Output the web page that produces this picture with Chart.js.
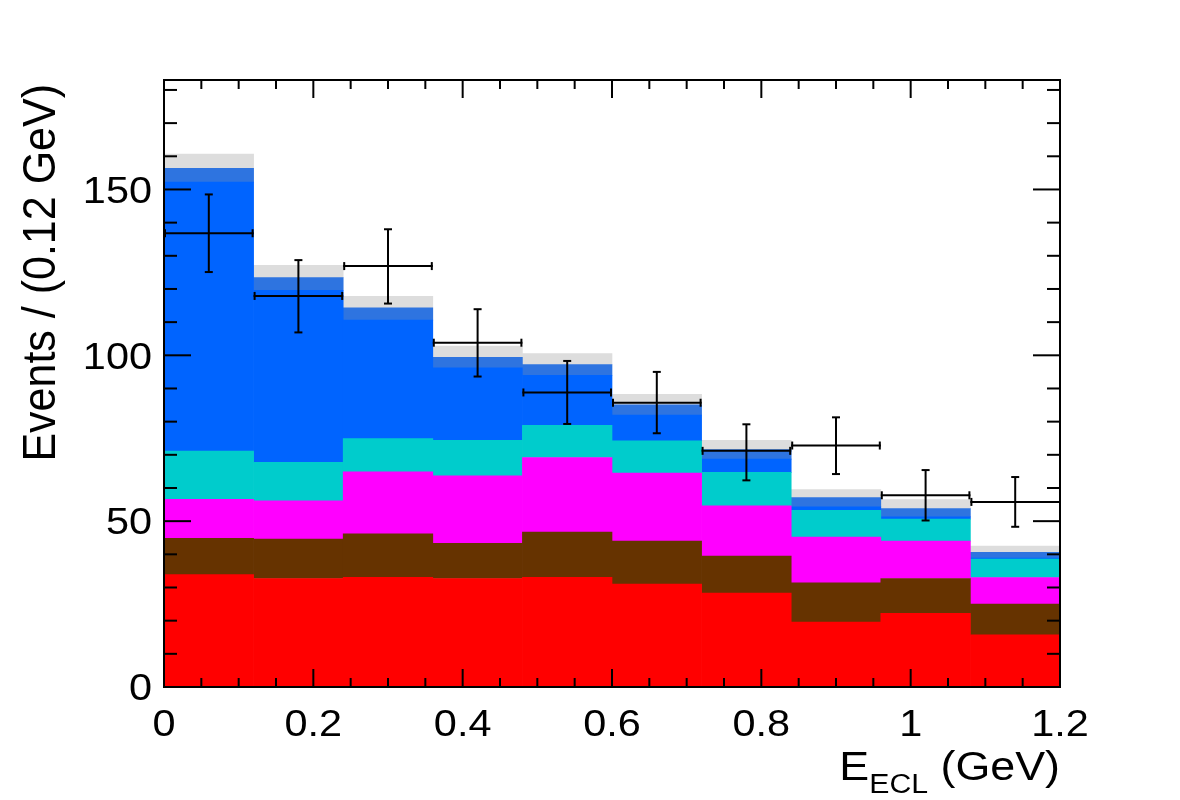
<!DOCTYPE html>
<html><head><meta charset="utf-8">
<script src="https://cdn.jsdelivr.net/npm/chart.js@4.4.0/dist/chart.umd.min.js"></script>
<style>html,body{margin:0;padding:0;background:#fff;}canvas{display:block;}</style>
</head><body>
<canvas id="c" width="1180" height="800"></canvas>
<script>
// ---- data ----
const binCenters = [0.06, 0.18, 0.30, 0.42, 0.54, 0.66, 0.78, 0.90, 1.02, 1.14];
const binHalfWidth = 0.06;
// stacked components (bottom to top), events per bin
const redComp     = [33.9, 32.7, 33.1, 32.7, 33.1, 31.0, 28.3, 19.6, 22.2, 15.7];
const brownComp   = [10.9, 11.9, 13.1, 10.6, 13.6, 13.0, 11.2, 11.8, 10.5, 9.3];
const magentaComp = [11.8, 11.5, 18.7, 20.4, 22.5, 20.5, 15.1, 13.8, 11.3, 8.0];
const cyanComp    = [14.5, 11.6, 10.0, 10.7, 9.7, 9.7, 10.1, 8.1, 6.6, 5.6];
const blueComp    = [81.1, 51.9, 35.7, 21.8, 15.1, 7.8, 4.0, 1.0, 0.7, 0.3];
const medBlueComp = [4.2, 3.8, 3.7, 3.2, 3.2, 3.1, 2.9, 2.8, 2.5, 1.7];
const grayComp    = [4.3, 3.7, 3.5, 3.4, 3.3, 3.1, 2.8, 2.4, 2.7, 1.9];
// data points with error bars
const dataY  = [136.8, 117.9, 126.9, 103.8, 88.8, 85.7, 71.2, 72.8, 57.8, 55.8];
const dataLo = [125.1, 106.9, 115.6, 93.6, 79.3, 76.5, 62.3, 64.2, 50.2, 48.3];
const dataHi = [148.5, 128.7, 138.0, 113.9, 98.3, 95.0, 79.2, 81.3, 65.4, 63.3];
// axes
const xTickValues = [0, 0.2, 0.4, 0.6, 0.8, 1.0, 1.2];
const xTickLabels = ['0', '0.2', '0.4', '0.6', '0.8', '1', '1.2'];
const yTickValues = [0, 50, 100, 150];
const yTickLabels = ['0', '50', '100', '150'];
const yTitle = 'Events / (0.12 GeV)';
const xTitleMain = 'E', xTitleSub = 'ECL', xTitleRest = ' (GeV)';

const components = [
  {label: 'red', data: redComp, color: '#ff0000'},
  {label: 'brown', data: brownComp, color: '#663300'},
  {label: 'magenta', data: magentaComp, color: '#ff00ff'},
  {label: 'cyan', data: cyanComp, color: '#00cccc'},
  {label: 'blue', data: blueComp, color: '#0064ff'},
  {label: 'medblue', data: medBlueComp, color: '#2e74e0'},
  {label: 'gray', data: grayComp, color: '#dddddd'}
];

const FONT = '"Liberation Sans", Arial, Helvetica, sans-serif';
const STRETCH = 1.12;

function line(ctx, x1, y1, x2, y2) {
  ctx.beginPath(); ctx.moveTo(x1, y1); ctx.lineTo(x2, y2); ctx.stroke();
}
function stretchedText(ctx, text, x, y, size, align) {
  ctx.save();
  ctx.font = size + 'px ' + FONT;
  const w = ctx.measureText(text).width * STRETCH;
  let x0 = x;
  if (align === 'right') x0 = x - w; else if (align === 'center') x0 = x - w / 2;
  ctx.translate(x0, y);
  ctx.scale(STRETCH, 1);
  ctx.textAlign = 'left';
  ctx.textBaseline = 'alphabetic';
  ctx.fillText(text, 0, 0);
  ctx.restore();
  return w;
}

const decor = {
  id: 'decor',
  afterDraw(chart) {
    const ctx = chart.ctx;
    const xs = chart.scales.x, ys = chart.scales.y;
    const a = chart.chartArea;
    ctx.save();
    ctx.strokeStyle = '#000';
    ctx.fillStyle = '#000';
    ctx.lineWidth = 2;
    ctx.lineCap = 'butt';
    // frame
    ctx.strokeRect(a.left, a.top, a.right - a.left, a.bottom - a.top);
    // x ticks (major 0.2, minor 0.05)
    for (let k = 0; k <= 24; k++) {
      const v = k * 0.05;
      const px = xs.getPixelForValue(v);
      const len = (k % 4 === 0) ? 18 : 9;
      line(ctx, px, a.bottom, px, a.bottom - len);
      line(ctx, px, a.top, px, a.top + len);
    }
    // y ticks (major 50, minor 10)
    for (let v = 0; v <= ys.max; v += 10) {
      const py = ys.getPixelForValue(v);
      const len = (v % 50 === 0) ? 27 : 13;
      line(ctx, a.left, py, a.left + len, py);
      line(ctx, a.right, py, a.right - len, py);
    }
    // error bars
    ctx.lineWidth = 2;
    for (let i = 0; i < binCenters.length; i++) {
      const px = xs.getPixelForValue(binCenters[i]);
      const pl = xs.getPixelForValue(binCenters[i] - binHalfWidth);
      const pr = Math.min(xs.getPixelForValue(binCenters[i] + binHalfWidth), a.right);
      const py = ys.getPixelForValue(dataY[i]);
      const plo = ys.getPixelForValue(dataLo[i]);
      const phi = ys.getPixelForValue(dataHi[i]);
      line(ctx, pl, py, pr, py);
      line(ctx, px, plo, px, phi);
      line(ctx, px - 4, plo, px + 4, plo);
      line(ctx, px - 4, phi, px + 4, phi);
      line(ctx, pl + 1, py - 4, pl + 1, py + 4);
      if (i < binCenters.length - 1) line(ctx, pr - 1, py - 4, pr - 1, py + 4);
    }
    // tick labels
    const tsz = 37;
    xTickValues.forEach((v, i) => {
      stretchedText(ctx, xTickLabels[i], xs.getPixelForValue(v), 736, tsz, 'center');
    });
    yTickValues.forEach((v, i) => {
      stretchedText(ctx, yTickLabels[i], 152, ys.getPixelForValue(v) + 0.358 * tsz, tsz, 'right');
    });
    // x title
    const mainSz = 40, subSz = 27;
    ctx.font = mainSz + 'px ' + FONT;
    const wE = ctx.measureText(xTitleMain).width * STRETCH;
    const wR = ctx.measureText(xTitleRest).width * STRETCH;
    ctx.font = subSz + 'px ' + FONT;
    const wS = ctx.measureText(xTitleSub).width * STRETCH;
    let x0 = a.right - (wE + wS + wR);
    stretchedText(ctx, xTitleMain, x0, 780, mainSz, 'left');
    stretchedText(ctx, xTitleSub, x0 + wE, 793, subSz, 'left');
    stretchedText(ctx, xTitleRest, x0 + wE + wS, 780, mainSz, 'left');
    // y title (rotated)
    ctx.save();
    ctx.translate(55, a.top + 4);
    ctx.rotate(-Math.PI / 2);
    ctx.scale(1, 1.06);
    ctx.font = '43px ' + FONT;
    ctx.textAlign = 'right';
    ctx.textBaseline = 'alphabetic';
    ctx.fillText(yTitle, 0, 0);
    ctx.restore();
    ctx.restore();
  }
};

new Chart(document.getElementById('c').getContext('2d'), {
  type: 'bar',
  data: {
    datasets: components.map(c => ({
      label: c.label,
      data: binCenters.map((x, i) => ({x: x, y: c.data[i]})),
      backgroundColor: c.color,
      borderWidth: 0,
      barPercentage: 1.0,
      categoryPercentage: 1.0
    }))
  },
  options: {
    responsive: false,
    animation: false,
    devicePixelRatio: 1,
    layout: {padding: {left: 164, right: 120, top: 80, bottom: 113}},
    plugins: {legend: {display: false}, tooltip: {enabled: false}},
    scales: {
      x: {type: 'linear', min: 0, max: 1.2, stacked: true, display: false, offset: false,
          ticks: {stepSize: 0.6}},
      y: {type: 'linear', min: 0, max: 183, stacked: true, display: false}
    }
  },
  plugins: [decor]
});
</script>
</body></html>
